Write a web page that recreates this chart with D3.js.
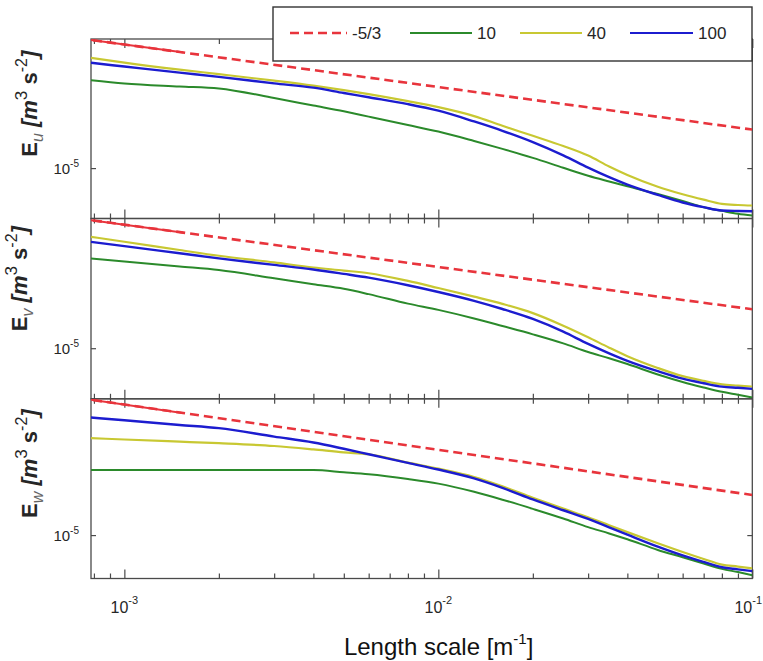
<!DOCTYPE html>
<html>
<head>
<meta charset="utf-8">
<script src="https://cdn.jsdelivr.net/npm/d3@7"></script>
<style>
  html, body { margin: 0; padding: 0; background: #fff; }
  svg { display: block; font-family: "Liberation Sans", Arial, sans-serif; }
</style>
</head>
<body>
<svg id="chart" width="763" height="661"></svg>
<script>
// Wavenumber samples [m^-1]
const k = [7.83e-4, 1e-3, 1.5e-3, 2e-3, 3e-3, 4e-3, 5e-3, 6e-3, 8e-3, 1e-2, 1.3e-2, 1.6e-2,
           2e-2, 2.5e-2, 3e-2, 3.5e-2, 4e-2, 5e-2, 6e-2, 7e-2, 8e-2, 9e-2, 1e-1];

// E_u spectra for the three cases (10, 40, 100)
const eu10  = [2.84e-2, 2.10e-2, 1.60e-2, 1.34e-2, 5.65e-3, 2.86e-3, 1.69e-3, 1.05e-3, 4.93e-4, 2.71e-4, 1.16e-4, 5.70e-5,
               2.52e-5, 1.03e-5, 5.02e-6, 2.99e-6, 1.94e-6, 9.55e-7, 5.12e-7, 2.92e-7, 2.10e-7, 1.60e-7, 1.37e-7];
const eu40  = [2.14e-1, 1.39e-1, 7.35e-2, 4.89e-2, 2.71e-2, 1.72e-2, 1.15e-2, 7.98e-3, 4.23e-3, 2.46e-3, 1.10e-3, 4.58e-4,
               1.85e-4, 7.35e-5, 3.10e-5, 1.15e-5, 5.35e-6, 1.85e-6, 9.38e-7, 5.75e-7, 3.93e-7, 3.56e-7, 3.40e-7];
const eu100 = [1.36e-1, 9.73e-2, 5.60e-2, 3.83e-2, 2.12e-2, 1.44e-2, 8.89e-3, 6.03e-3, 3.25e-3, 1.79e-3, 6.78e-4, 2.92e-4,
               1.05e-4, 3.16e-5, 1.04e-5, 4.39e-6, 2.24e-6, 8.89e-7, 4.47e-7, 2.92e-7, 2.16e-7, 2.07e-7, 2.03e-7];

// E_v spectra
const ev10  = [3.49e-2, 2.66e-2, 1.68e-2, 1.21e-2, 5.70e-3, 3.31e-3, 2.20e-3, 1.36e-3, 5.75e-4, 3.25e-4, 1.49e-4, 7.48e-5,
               3.52e-5, 1.55e-5, 7.08e-6, 4.00e-6, 2.37e-6, 9.23e-7, 4.67e-7, 2.84e-7, 1.91e-7, 1.46e-7, 1.14e-7];
const ev40  = [2.48e-1, 1.59e-1, 7.48e-2, 4.43e-2, 2.43e-2, 1.53e-2, 1.16e-2, 9.06e-3, 4.54e-3, 2.37e-3, 1.08e-3, 5.60e-4,
               2.43e-4, 7.76e-5, 2.71e-5, 1.05e-5, 4.84e-6, 1.66e-6, 7.91e-7, 5.12e-7, 3.76e-7, 3.37e-7, 3.08e-7];
const ev100 = [1.57e-1, 1.07e-1, 5.55e-2, 3.49e-2, 1.94e-2, 1.28e-2, 8.57e-3, 6.07e-3, 3.05e-3, 1.65e-3, 7.41e-4, 3.52e-4,
               1.43e-4, 4.51e-5, 1.48e-5, 6.30e-6, 3.19e-6, 1.24e-6, 6.30e-7, 4.15e-7, 3.05e-7, 2.74e-7, 2.50e-7];

// E_w spectra
const ew10  = [3.62e-3, 3.62e-3, 3.58e-3, 3.58e-3, 3.62e-3, 3.59e-3, 2.94e-3, 2.46e-3, 1.60e-3, 1.05e-3, 5.02e-4, 2.46e-4,
               1.07e-4, 4.47e-5, 2.05e-5, 1.16e-5, 6.84e-6, 2.61e-6, 1.35e-6, 7.62e-7, 4.71e-7, 3.52e-7, 2.66e-7];
const ew40  = [6.41e-2, 5.70e-2, 4.67e-2, 4.07e-2, 3.16e-2, 2.32e-2, 1.77e-2, 1.50e-2, 7.01e-3, 4.07e-3, 1.92e-3, 8.26e-4,
               2.94e-4, 1.10e-4, 5.02e-5, 2.43e-5, 1.31e-5, 4.75e-6, 2.16e-6, 1.15e-6, 6.90e-7, 5.81e-7, 4.89e-7];
const ew100 = [4.15e-1, 3.25e-1, 2.12e-1, 1.59e-1, 7.41e-2, 4.35e-2, 2.46e-2, 1.50e-2, 6.84e-3, 3.76e-3, 1.68e-3, 7.14e-4,
               2.52e-4, 9.46e-5, 4.31e-5, 2.01e-5, 1.04e-5, 3.52e-6, 1.59e-6, 8.81e-7, 5.44e-7, 4.51e-7, 3.83e-7];

// -5/3 reference line end points
const kSlope = [7.83e-4, 1e-1];
const slopeU = [1.07, 3.25e-4];
const slopeV = [1.125, 3.43e-4];
const slopeW = [2.07, 3.76e-4];

// Legend and tick labels
const seriesNames = ["-5/3", "10", "40", "100"];
const xTickExp = ["-3", "-2", "-1"];
const yTickExp = "-5";
const components = ["u", "v", "w"];

// ---------------- layout ----------------
const colors = { slope: "#e8343c", s10: "#2b8a2b", s40: "#c8c832", s100: "#1c1ccf" };
const left = 91, right = 752.3;
const panelTops = [39, 218.5, 398.8];
const panelBottoms = [218.5, 398.8, 578.5];
const yDomains = [[1.05e-7, 1.17], [1.01e-7, 1.31], [1.97e-7, 2.26]];
const titleX = [37, 27, 37];
const titleShift = [-25, -30, -25];
const axisColor = "#4a4a4a";
const textColor = "#262626";
const W = 763;

const svg = d3.select("#chart");
const x = d3.scaleLog().domain([7.83e-4, 1e-1]).range([left, right]);

const majorTicks = [1e-3, 1e-2, 1e-1];
const minorTicks = [];
[1e-4, 1e-3, 1e-2].forEach(d => { for (let m = 2; m <= 9; m++) minorTicks.push(d * m); });
const minorIn = minorTicks.filter(v => v >= 7.8e-4 && v <= 1e-1);

const panels = [
  { sub: components[0], s10: eu10, s40: eu40, s100: eu100, slope: slopeU },
  { sub: components[1], s10: ev10, s40: ev40, s100: ev100, slope: slopeV },
  { sub: components[2], s10: ew10, s40: ew40, s100: ew100, slope: slopeW }
];

const defs = svg.append("defs");
defs.selectAll("clipPath.panel").data(panels).join("clipPath")
  .attr("class", "panel")
  .attr("id", (d, i) => "clip" + i)
  .append("rect")
  .attr("x", left).attr("width", right - left)
  .attr("y", (d, i) => panelTops[i]).attr("height", (d, i) => panelBottoms[i] - panelTops[i]);

panels.forEach((p, i) => {
  const top = panelTops[i], bottom = panelBottoms[i];
  const y = d3.scaleLog().domain(yDomains[i]).range([bottom, top]);
  const g = svg.append("g");

  // frame
  g.append("rect").attr("x", left).attr("y", top)
    .attr("width", right - left).attr("height", bottom - top)
    .attr("fill", "none").attr("stroke", axisColor).attr("stroke-width", 1.3);

  // x ticks on top and bottom edges, pointing inward
  const addXTicks = (vals, len) => {
    const ab = d3.axisBottom(x).tickValues(vals).tickSize(-len).tickSizeOuter(0).tickFormat("");
    const at = d3.axisTop(x).tickValues(vals).tickSize(-len).tickSizeOuter(0).tickFormat("");
    const gb = g.append("g").attr("transform", `translate(0,${bottom})`).call(ab);
    const gt = g.append("g").attr("transform", `translate(0,${top})`).call(at);
    [gb, gt].forEach(a => {
      a.select(".domain").remove();
      a.selectAll(".tick line").attr("stroke", axisColor).attr("stroke-width", 1.2);
    });
  };
  addXTicks(minorIn, 5);
  addXTicks(majorTicks, 9);

  // y ticks at 1e-5 on both sides
  const yl = g.append("g").attr("transform", `translate(${left},0)`)
    .call(d3.axisRight(y).tickValues([1e-5]).tickSize(5).tickSizeOuter(0).tickFormat(""));
  const yr = g.append("g").attr("transform", `translate(${right},0)`)
    .call(d3.axisLeft(y).tickValues([1e-5]).tickSize(5).tickSizeOuter(0).tickFormat(""));
  [yl, yr].forEach(a => {
    a.select(".domain").remove();
    a.selectAll(".tick line").attr("stroke", axisColor).attr("stroke-width", 1.2);
  });

  // y tick label 10^-5
  const yt = g.append("text").attr("x", 79).attr("y", y(1e-5) + 6)
    .attr("text-anchor", "end").attr("fill", textColor).style("font-size", "15px");
  yt.append("tspan").text("10");
  yt.append("tspan").attr("dy", -7).style("font-size", "10px").text(yTickExp);

  // y axis title: E_c [m^3 s^-2]
  const cy = (top + bottom) / 2 + titleShift[i];
  const yl2 = g.append("text").attr("transform", `translate(${titleX[i]},${cy}) rotate(-90)`)
    .attr("text-anchor", "middle").attr("fill", textColor)
    .style("font-size", "22px").style("font-weight", "bold");
  yl2.append("tspan").text("E");
  yl2.append("tspan").attr("dy", 6).style("font-size", "16px").style("font-style", "italic")
    .style("font-weight", "normal").attr("fill", "#666").text(p.sub);
  yl2.append("tspan").attr("dy", -6).style("font-style", "italic").text(" [m");
  yl2.append("tspan").attr("dy", -10).style("font-size", "17px").style("font-weight", "normal").text("3");
  yl2.append("tspan").attr("dy", 10).text(" s");
  yl2.append("tspan").attr("dy", -10).style("font-size", "16px").style("font-weight", "normal").text("-2");
  yl2.append("tspan").attr("dy", 10).style("font-style", "italic").text("]");

  // curves
  const plot = g.append("g").attr("clip-path", `url(#clip${i})`);
  const line = d3.line().x(d => x(d[0])).y(d => y(d[1]));
  const smooth = d3.line().x(d => x(d[0])).y(d => y(d[1])).curve(d3.curveMonotoneX);

  // -5/3 reference: short solid start followed by dashes
  const slopePts = kSlope.map((kk, j) => [kk, p.slope[j]]);
  plot.append("path").attr("d", line(slopePts)).attr("fill", "none")
    .attr("stroke", colors.slope).attr("stroke-width", 2.6).attr("stroke-dasharray", "9,5")
    .attr("stroke-dashoffset", -2);
  const solidClip = "solid" + i;
  defs.append("clipPath").attr("id", solidClip).append("rect")
    .attr("x", left).attr("y", top).attr("width", x(1.54e-3) - left).attr("height", bottom - top);
  plot.append("g").attr("clip-path", `url(#${solidClip})`)
    .append("path").attr("d", line(slopePts)).attr("fill", "none")
    .attr("stroke", colors.slope).attr("stroke-width", 2);

  const series = [["s10", p.s10, 2], ["s40", p.s40, 2.2], ["s100", p.s100, 2.4]];
  series.forEach(([key, vals, w]) => {
    plot.append("path").attr("d", smooth(k.map((kk, j) => [kk, vals[j]])))
      .attr("fill", "none").attr("stroke", colors[key]).attr("stroke-width", w)
      .attr("stroke-linejoin", "round");
  });

  // x tick labels under the last panel
  if (i === panels.length - 1) {
    majorTicks.forEach((t, j) => {
      const tx = g.append("text").attr("x", x(t)).attr("y", bottom + 34)
        .attr("text-anchor", "middle").attr("fill", textColor).style("font-size", "16px");
      tx.append("tspan").text("10");
      tx.append("tspan").attr("dy", -9).style("font-size", "11px").text(xTickExp[j]);
      // keep the last label inside the page
      const bb = tx.node().getBBox();
      if (bb.x + bb.width > W - 1) tx.attr("x", x(t) - (bb.x + bb.width - (W - 1)));
    });
  }
});

// x axis title
const xt = svg.append("text").attr("x", (left + right) / 2 + 17).attr("y", 655)
  .attr("text-anchor", "middle").attr("fill", "#111").style("font-size", "24px");
xt.append("tspan").text("Length scale [m");
xt.append("tspan").attr("dy", -11).style("font-size", "15px").text("-1");
xt.append("tspan").attr("dy", 11).text("]");

// legend
const lg = svg.append("g");
lg.append("rect").attr("x", 273).attr("y", 7).attr("width", 479).attr("height", 54)
  .attr("fill", "#fff").attr("stroke", "#333").attr("stroke-width", 1.4);
const legendItems = [
  { name: seriesNames[0], color: colors.slope, x0: 290, x1: 347, dash: "9,5", w: 2.6 },
  { name: seriesNames[1], color: colors.s10, x0: 410, x1: 472, dash: null, w: 2 },
  { name: seriesNames[2], color: colors.s40, x0: 520, x1: 582, dash: null, w: 2 },
  { name: seriesNames[3], color: colors.s100, x0: 630, x1: 693, dash: null, w: 2.2 }
];
legendItems.forEach(d => {
  lg.append("line").attr("x1", d.x0).attr("x2", d.x1).attr("y1", 33).attr("y2", 33)
    .attr("stroke", d.color).attr("stroke-width", d.w).attr("stroke-dasharray", d.dash);
  lg.append("text").attr("x", d.x1 + 5).attr("y", 39).attr("fill", textColor)
    .style("font-size", "17px").text(d.name);
});
</script>
</body>
</html>
